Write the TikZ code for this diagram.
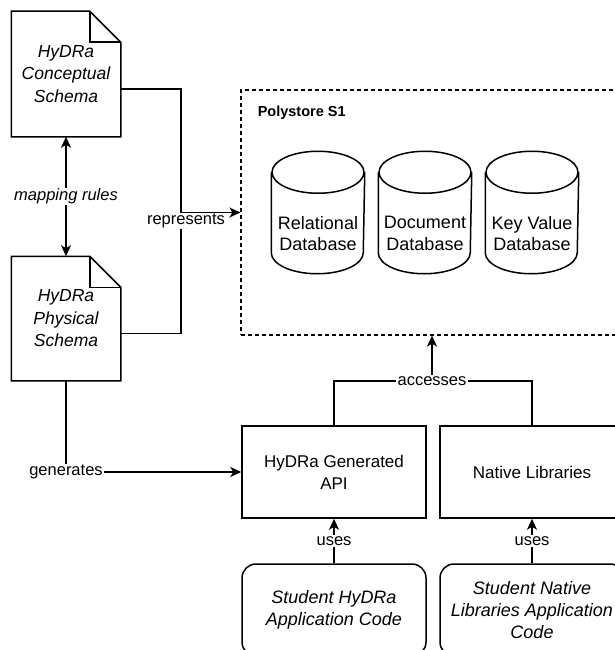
\documentclass[tikz,border=0pt]{standalone}
\usepackage{fontspec}
\setmainfont{Liberation Sans}
\usetikzlibrary{arrows.meta}

\begin{document}
\begin{tikzpicture}[
        x=1pt,y=-1pt,
        line width=1.5pt,
        every node/.style={inner sep=1pt,align=center},
        docnode/.style={minimum width=108pt,font=\fontsize{17.5}{22.5}\selectfont\itshape},
        dbnode/.style={minimum width=92pt,minimum height=79pt,font=\fontsize{18}{21.5}\selectfont},
        boxnode/.style={draw,minimum width=184pt,minimum height=92pt,font=\fontsize{17}{22}\selectfont},
        codenode/.style={draw,rounded corners=14pt,minimum width=184pt,minimum height=92pt,
            font=\fontsize{18}{22}\selectfont\itshape},
        lbl/.style={fill=white,font=\fontsize{16.5}{20}\selectfont},
        arr/.style={-{Stealth[length=11pt,width=10pt,inset=3pt]}},
        darr/.style={{Stealth[length=11pt,width=10pt,inset=3pt]}-{Stealth[length=11pt,width=10pt,inset=3pt]}}
    ]
\useasboundingbox (0,0) rectangle (614,650);
% Schemas
    \node[docnode,minimum height=124pt] (concept) at (66,74) {HyDRa\\Conceptual\\Schema};
    \node[docnode,minimum height=123pt] (physical) at (66,318.5) {HyDRa\\Physical\\Schema};
\foreach\n in {concept,physical}{
    \draw (\n.north west) -- ([xshift=-31pt]\n.north east) -- ([yshift=-31pt]\n.north east)
        -- (\n.south east) -- (\n.south west) -- cycle;
    \draw ([xshift=-31pt]\n.north east) |- ([yshift=-31pt]\n.north east);
}
% Polystore
    \node[draw,line width=1.2pt,dash pattern=on 4pt off 3pt,minimum width=389pt,minimum height=245pt] (poly) at (435.5,212.5) {};
    \node[anchor=west,font=\bfseries\fontsize{14.5}{17}\selectfont] (polyname) at (256,113) {Polystore S1};
    \node[dbnode] (rel) at (318,233.5) {Relational\\Database};
    \node[dbnode] (docdb) at (425,233.5) {Document\\Database};
    \node[dbnode] (kv) at (532,233.5) {Key Value\\Database};
\foreach\n in {rel,docdb,kv}{
    \draw ([yshift=21pt]\n.north) ellipse[x radius=46pt,y radius=21pt];
    \draw ([yshift=21pt]\n.north west) -- ([yshift=21pt]\n.south west)
        arc[start angle=180,end angle=360,x radius=46pt,y radius=21pt] -- ([yshift=21pt]\n.north east);
}
% Libraries and code
    \node[boxnode] (api) at (334,472) {HyDRa Generated\\API};
    \node[boxnode] (native) at (532,472) {Native Libraries};
    \node[codenode] (stuhydra) at (334,610) {Student HyDRa\\Application Code};
    \node[codenode] (stunative) at (532,610) {Student Native\\Libraries Application\\Code};
% Connectors
    \draw[darr] (concept.south) -- node[lbl,font=\fontsize{16.5}{20}\selectfont\itshape] {mapping rules} (physical.north);
    \coordinate (rjoin) at (181,212.5);
    \draw ([yshift=-15pt]physical.east) -| (rjoin);
    \node[lbl] (repr) at (186,221) {represents};
    \draw[arr] ([yshift=-15pt]concept.east) -| (rjoin) -- (poly.west);
    \draw[arr] (physical.south) |- node[lbl] {generates} (api.west);
    \node[lbl] (acc) at (432,381) {accesses};
    \draw (api.north) |- (acc.west);
    \draw (native.north) |- (acc.east);
    \draw[arr] (acc.north) -- (acc.north |- poly.south);
\foreach\a/\b in {stuhydra/api,stunative/native}{
    \draw[arr] (\a) -- node[lbl] {uses} (\b);
}
\end{tikzpicture}
\end{document}
